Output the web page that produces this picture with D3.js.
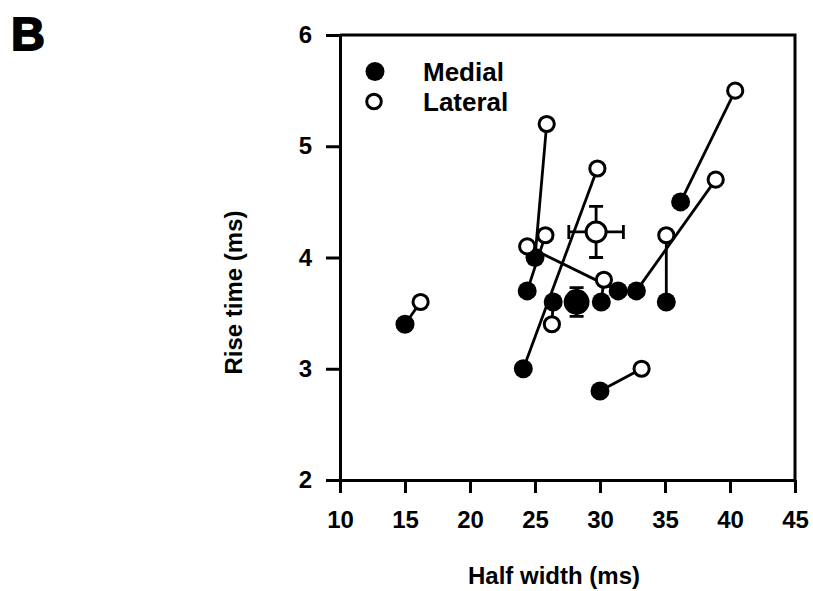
<!DOCTYPE html>
<html>
<head>
<meta charset="utf-8">
<script src="https://cdn.jsdelivr.net/npm/d3@7"></script>
<style>
  html, body { margin: 0; padding: 0; background: #fff; }
  svg { display: block; }
  text { font-family: "Liberation Sans", Arial, sans-serif; font-weight: bold; fill: #000; }
</style>
</head>
<body>
<svg id="chart" width="813" height="591"></svg>
<script>
// Paired recordings: each medial value is joined to its lateral counterpart.
const medialHalfWidth  = [15.0, 24.1, 24.4, 25.0, 26.4, 30.1, 31.4, 32.8, 35.1, 36.2, 30.0];
const medialRiseTime   = [3.4,  3.0,  3.7,  4.0,  3.6,  3.6,  3.7,  3.7,  3.6,  4.5,  2.8];
const lateralHalfWidth = [16.2, 29.8, 25.8, 25.9, 26.3, 30.3, 24.4, 38.9, 35.1, 40.4, 33.2];
const lateralRiseTime  = [3.6,  4.8,  4.2,  5.2,  3.4,  3.8,  4.1,  4.7,  4.2,  5.5,  3.0];

// Group means with error bars (x error, y error)
const meanGroups = ["Medial", "Lateral"];
const meanHalfWidth = [28.2, 29.7];
const meanRiseTime  = [3.6, 4.23];
const meanHalfWidthErr = [0.6, 2.1];
const meanRiseTimeErr  = [0.13, 0.23];

const xTicks = [10, 15, 20, 25, 30, 35, 40, 45];
const yTicks = [2, 3, 4, 5, 6];

const svg = d3.select("#chart");
const plotLeft = 340, plotRight = 795, plotTop = 35, plotBottom = 480;

const x = d3.scaleLinear().domain([10, 45]).range([plotLeft, plotRight]);
const y = d3.scaleLinear().domain([2, 6]).range([plotBottom, plotTop]);

// Panel letter
svg.append("text").attr("x", 11).attr("y", 50)
  .style("font-size", "47px").style("stroke", "#000").style("stroke-width", "1.8px")
  .text("B");

// Axes
const xAxis = d3.axisBottom(x).tickValues(xTicks).tickFormat(d3.format("d"))
  .tickSize(13).tickPadding(18).tickSizeOuter(0);
const yAxis = d3.axisLeft(y).tickValues(yTicks).tickFormat(d3.format("d"))
  .tickSize(14).tickPadding(14).tickSizeOuter(0);

const gx = svg.append("g").attr("transform", `translate(0,${plotBottom})`).call(xAxis);
const gy = svg.append("g").attr("transform", `translate(${plotLeft},0)`).call(yAxis);
[gx, gy].forEach(g => {
  g.select(".domain").attr("stroke", "#000").attr("stroke-width", 3);
  g.selectAll(".tick line").attr("stroke", "#000").attr("stroke-width", 3);
  g.selectAll(".tick text").style("font-size", "24px").attr("fill", "#000");
});
gx.selectAll(".tick text").attr("dy", "0.71em");

// Frame: top and right edges
svg.append("path")
  .attr("d", `M${plotLeft},${plotTop}H${plotRight}V${plotBottom}`)
  .attr("fill", "none").attr("stroke", "#000").attr("stroke-width", 3);

// Axis titles
svg.append("text").attr("x", 554).attr("y", 584)
  .attr("text-anchor", "middle").style("font-size", "24px")
  .text("Half width (ms)");
svg.append("text")
  .attr("transform", `translate(242,${(plotTop + plotBottom) / 2 + 35}) rotate(-90)`)
  .attr("text-anchor", "middle").style("font-size", "24px")
  .text("Rise time (ms)");

const plot = svg.append("g");

// Connecting lines
plot.selectAll("line.pair").data(medialHalfWidth).join("line")
  .attr("class", "pair")
  .attr("x1", (d, i) => x(medialHalfWidth[i]))
  .attr("y1", (d, i) => y(medialRiseTime[i]))
  .attr("x2", (d, i) => x(lateralHalfWidth[i]))
  .attr("y2", (d, i) => y(lateralRiseTime[i]))
  .attr("stroke", "#000").attr("stroke-width", 2.8);

// Medial points (filled)
plot.selectAll("circle.medial").data(medialHalfWidth).join("circle")
  .attr("class", "medial")
  .attr("cx", (d, i) => x(medialHalfWidth[i]))
  .attr("cy", (d, i) => y(medialRiseTime[i]))
  .attr("r", 9.5).attr("fill", "#000");

// Lateral points (open)
plot.selectAll("circle.lateral").data(lateralHalfWidth).join("circle")
  .attr("class", "lateral")
  .attr("cx", (d, i) => x(lateralHalfWidth[i]))
  .attr("cy", (d, i) => y(lateralRiseTime[i]))
  .attr("r", 7.6).attr("fill", "#fff").attr("stroke", "#000").attr("stroke-width", 3);

// Means with error bars
const cap = 7;
meanGroups.forEach((name, i) => {
  const cx = x(meanHalfWidth[i]), cy = y(meanRiseTime[i]);
  const x0 = x(meanHalfWidth[i] - meanHalfWidthErr[i]), x1 = x(meanHalfWidth[i] + meanHalfWidthErr[i]);
  const y0 = y(meanRiseTime[i] - meanRiseTimeErr[i]), y1 = y(meanRiseTime[i] + meanRiseTimeErr[i]);
  const g = plot.append("g").attr("stroke", "#000").attr("stroke-width", 2.8);
  g.append("path").attr("fill", "none").attr("d",
    `M${x0},${cy}H${x1}M${cx},${y0}V${y1}` +
    `M${x0},${cy - cap}V${cy + cap}M${x1},${cy - cap}V${cy + cap}` +
    `M${cx - cap},${y0}H${cx + cap}M${cx - cap},${y1}H${cx + cap}`);
  if (name === "Medial") {
    g.append("circle").attr("cx", cx).attr("cy", cy).attr("r", 11.5).attr("fill", "#000");
  } else {
    g.append("circle").attr("cx", cx).attr("cy", cy).attr("r", 10).attr("fill", "#fff").attr("stroke-width", 3);
  }
});

// Legend
const legend = svg.append("g");
legend.append("circle").attr("cx", 375).attr("cy", 71.5).attr("r", 9.5).attr("fill", "#000");
legend.append("circle").attr("cx", 374).attr("cy", 101.5).attr("r", 7.3).attr("fill", "#fff")
  .attr("stroke", "#000").attr("stroke-width", 3);
legend.append("text").attr("x", 423).attr("y", 81).style("font-size", "26px").text("Medial");
legend.append("text").attr("x", 423).attr("y", 111).style("font-size", "26px").text("Lateral");
</script>
</body>
</html>
